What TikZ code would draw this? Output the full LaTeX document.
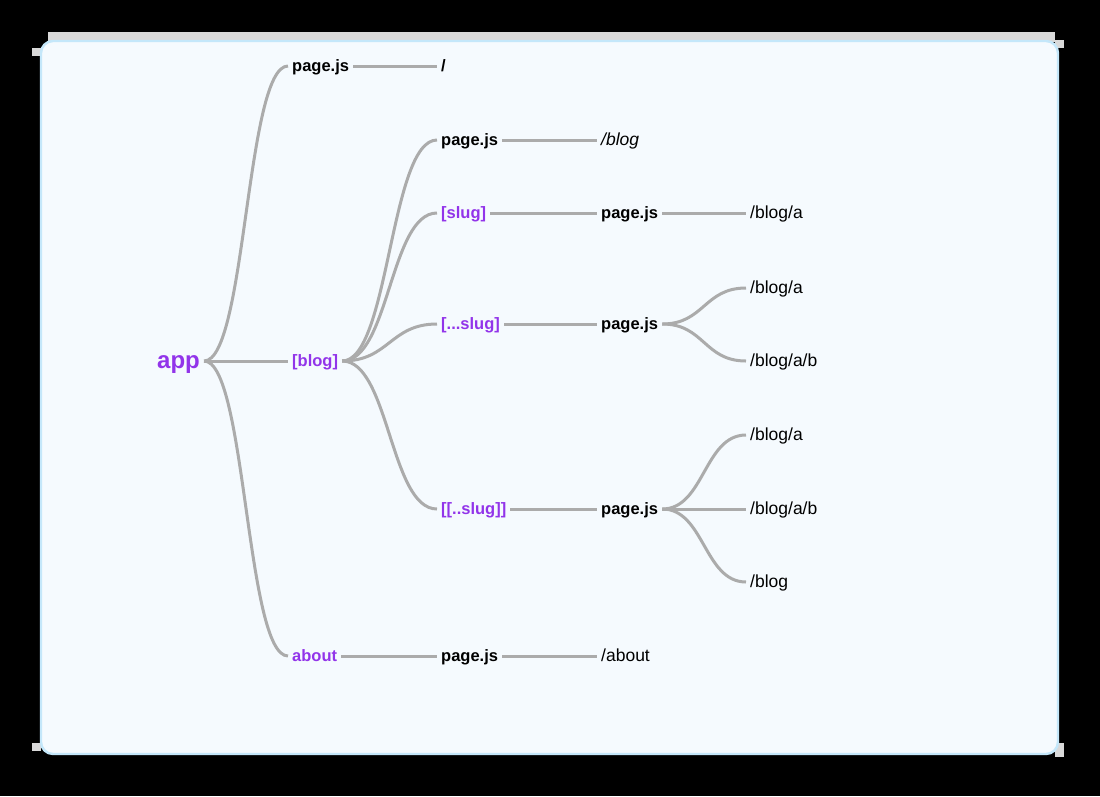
\documentclass[tikz,border=0pt]{standalone}
\usepackage{fontspec}
\setmainfont{Liberation Sans}
\definecolor{routepurple}{HTML}{9234EA}
\definecolor{linkgray}{HTML}{ABABAB}
\definecolor{panelfill}{HTML}{F5FAFE}
\definecolor{panelborder}{HTML}{C4E7FA}
\definecolor{shadowgray}{HTML}{D9D9D9}

\begin{document}
\begin{tikzpicture}[x=1pt,y=-1pt,
    every node/.style={anchor=west,inner xsep=4pt,inner ysep=0pt,text height=13pt,text depth=3pt},
    folder/.style={font=\fontsize{16.5}{18}\selectfont\bfseries,text=routepurple},
    file/.style={font=\fontsize{16.5}{18}\selectfont\bfseries},
    route/.style={font=\fontsize{17.5}{19}\selectfont},
    link/.style={draw=linkgray,line width=3pt},
    fork/.style={out=0,in=180,distance=#1}]
    \useasboundingbox (0,0) rectangle (1100,796);
    \fill[black] (0,0) rectangle (1100,796);

    % frame
    \fill[shadowgray] (48,32) rectangle (1055,42);
    \fill[shadowgray] (32,48) rectangle (41,56);
    \fill[shadowgray] (32,743) rectangle (41,751);
    \fill[shadowgray] (1055,40) rectangle (1064,48);
    \fill[shadowgray] (1055,743) rectangle (1064,757);
    \draw[panelborder,fill=panelfill,line width=2.4pt,rounded corners=12pt] (41,41) rectangle (1058,754);

    \node[folder,font=\fontsize{24}{26}\selectfont\bfseries,text height=18pt,text depth=4pt] (app) at (153, 361) {app};

    \node[file] (pgroot) at (288, 66) {page.js};
    \node[file] (slash) at (437, 66) {/};

    \node[folder] (blog) at (288, 361) {[blog]};
    \node[file] (pgblog) at (437, 140) {page.js};
    \node[route,font=\fontsize{17.5}{19}\selectfont\itshape] (rblog) at (597, 140) {/blog};

    \node[folder] (slug) at (437, 213) {[slug]};
    \node[file] (pgslug) at (597, 213) {page.js};
    \node[route] (rslug) at (746, 213) {/blog/a};

    \node[folder] (cslug) at (437, 324) {[...slug]};
    \node[file] (pgcslug) at (597, 324) {page.js};
    \node[route] (rcsa) at (746, 288) {/blog/a};
    \node[route] (rcsb) at (746, 361) {/blog/a/b};

    \node[folder] (oslug) at (437, 509) {[[..slug]]};
    \node[file] (pgoslug) at (597, 509) {page.js};
    \node[route] (rosa) at (746, 435) {/blog/a};
    \node[route] (rosb) at (746, 509) {/blog/a/b};
    \node[route] (rosc) at (746, 582) {/blog};

    \node[folder] (about) at (288, 656) {about};
    \node[file] (pgabout) at (437, 656) {page.js};
    \node[route] (rabout) at (597, 656) {/about};

    \draw[link] (app.east) to[fork=42pt] (pgroot.west);
    \draw[link] (app.east) -- (blog.west);
    \draw[link] (app.east) to[fork=42pt] (about.west);

    \draw[link] (pgroot.east) -- (slash.west);

    \draw[link] (blog.east) to[fork=47pt] (pgblog.west);
    \draw[link] (blog.east) to[fork=47pt] (slug.west);
    \draw[link] (blog.east) to[fork=47pt] (cslug.west);
    \draw[link] (blog.east) to[fork=47pt] (oslug.west);

    \draw[link] (pgblog.east) -- (rblog.west);
    \draw[link] (slug.east) -- (pgslug.west);
    \draw[link] (pgslug.east) -- (rslug.west);

    \draw[link] (cslug.east) -- (pgcslug.west);
    \draw[link] (pgcslug.east) to[fork=42pt] (rcsa.west);
    \draw[link] (pgcslug.east) to[fork=42pt] (rcsb.west);

    \draw[link] (oslug.east) -- (pgoslug.west);
    \draw[link] (pgoslug.east) to[fork=42pt] (rosa.west);
    \draw[link] (pgoslug.east) -- (rosb.west);
    \draw[link] (pgoslug.east) to[fork=42pt] (rosc.west);

    \draw[link] (about.east) -- (pgabout.west);
    \draw[link] (pgabout.east) -- (rabout.west);
  \end{tikzpicture}
\end{document}
